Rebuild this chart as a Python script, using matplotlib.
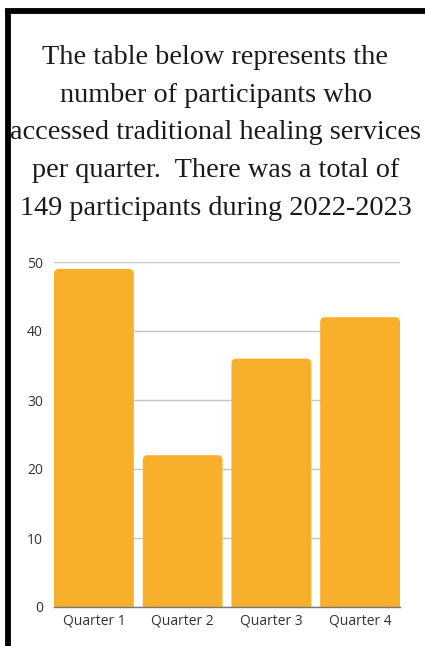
import matplotlib
matplotlib.use("Agg")
import matplotlib.pyplot as plt
from matplotlib.patches import FancyBboxPatch

categories = ["Quarter 1", "Quarter 2", "Quarter 3", "Quarter 4"]
values = [49, 22, 36, 42]
yticks = [0, 10, 20, 30, 40, 50]
title = ("The table below represents the\nnumber of participants who\n"
         "accessed traditional healing services\nper quarter.  There was a total of\n"
         "149 participants during 2022-2023")

W, H = 425, 646
fig = plt.figure(figsize=(W / 100, H / 100), dpi=100)
fig.patch.set_facecolor("white")

# black frame (top and left)
fig.add_artist(plt.Line2D([5 / W, 1.0], [1 - 11 / H, 1 - 11 / H], color="black", lw=4.2,
                          transform=fig.transFigure, solid_capstyle="butt"))
fig.add_artist(plt.Line2D([7.5 / W, 7.5 / W], [0, 1 - 8.5 / H], color="black", lw=4.2,
                          transform=fig.transFigure, solid_capstyle="butt"))

fig.text(0.5 + 3 / W, 1 - 45 / H, title, ha="center", va="top", family="Liberation Serif",
         fontsize=20.3, linespacing=1.67, color="#1a1a1a")

ax = fig.add_axes([54 / W, 1 - 607 / H, 346 / W, 345 / H])
x = list(range(len(categories)))
bars = ax.bar(x, values, width=0.9, color="#F8AF2C", zorder=2)
ax.set_xlim(-0.45, len(categories) - 0.55)
ax.set_ylim(0, 50)
ax.set_yticks(yticks)
ax.set_xticks(x)
ax.set_xticklabels(categories)
ax.yaxis.grid(True, color="#c4c4c4", lw=1.0, zorder=0)
for s in ["top", "right", "left"]:
    ax.spines[s].set_visible(False)
ax.spines["bottom"].set_color("#777777")
ax.spines["bottom"].set_linewidth(1.0)
ax.tick_params(length=0, labelsize=10, colors="#333333")
ax.tick_params(axis="y", pad=8)
ax.tick_params(axis="x", pad=5)
for lbl in ax.get_xticklabels() + ax.get_yticklabels():
    lbl.set_family("Open Sans")

# rounded tops
fig.canvas.draw()
px_per_x = ax.bbox.width / (ax.get_xlim()[1] - ax.get_xlim()[0])
px_per_y = ax.bbox.height / (ax.get_ylim()[1] - ax.get_ylim()[0])
r_px = 5
for b in bars:
    bx, bw, bh = b.get_x(), b.get_width(), b.get_height()
    b.set_visible(False)
    rr = r_px / px_per_x
    p = FancyBboxPatch((bx, -5), bw, bh + 5,
                       boxstyle=f"round,pad=0,rounding_size={rr}",
                       mutation_aspect=px_per_x / px_per_y,
                       facecolor="#F8AF2C", edgecolor="none", zorder=2, clip_on=True)
    ax.add_patch(p)
    p.set_clip_path(ax.patch)

fig.savefig("out.png", dpi=100, facecolor="white")
